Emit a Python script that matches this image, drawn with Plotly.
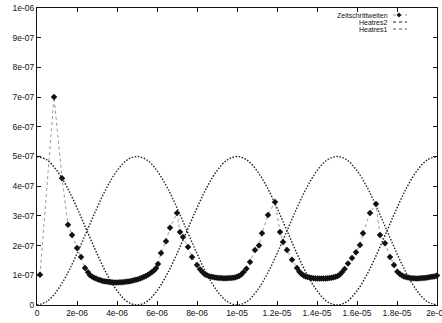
import plotly.graph_objects as go

# ---- data (x in microseconds, y in units of 1e-07) ----
heat_x_us = [0.0, 0.5, 1.0, 1.5, 2.0, 2.5, 3.0, 3.5, 4.0, 4.5, 5.0, 5.5, 6.0, 6.5, 7.0, 7.5,
             8.0, 8.5, 9.0, 9.5, 10.0, 10.5, 11.0, 11.5, 12.0, 12.5, 13.0, 13.5, 14.0, 14.5,
             15.0, 15.5, 16.0, 16.5, 17.0, 17.5, 18.0, 18.5, 19.0, 19.5, 20.0]
heatres2_e7 = [5.00, 4.88, 4.52, 3.97, 3.27, 2.50, 1.73, 1.03, 0.48, 0.12, 0.00, 0.12, 0.48, 1.03,
               1.73, 2.50, 3.27, 3.97, 4.52, 4.88, 5.00, 4.88, 4.52, 3.97, 3.27, 2.50, 1.73, 1.03,
               0.48, 0.12, 0.00, 0.12, 0.48, 1.03, 1.73, 2.50, 3.27, 3.97, 4.52, 4.88, 5.00]
heatres1_e7 = [0.00, 0.12, 0.48, 1.03, 1.73, 2.50, 3.27, 3.97, 4.52, 4.88, 5.00, 4.88, 4.52, 3.97,
               3.27, 2.50, 1.73, 1.03, 0.48, 0.12, 0.00, 0.12, 0.48, 1.03, 1.73, 2.50, 3.27, 3.97,
               4.52, 4.88, 5.00, 4.88, 4.52, 3.97, 3.27, 2.50, 1.73, 1.03, 0.48, 0.12, 0.00]

zsw_x_us = [0.15, 0.85, 1.25, 1.55, 1.75, 2.0, 2.2, 2.4, 2.55, 2.65, 2.75, 2.85, 2.95, 3.05, 3.15,
            3.25, 3.35, 3.45, 3.55, 3.65, 3.75, 3.85, 3.95, 4.05, 4.15, 4.25, 4.35, 4.45, 4.55,
            4.65, 4.75, 4.85, 4.95, 5.05, 5.15, 5.25, 5.35, 5.45, 5.55, 5.65, 5.75, 5.85, 5.95,
            6.05, 6.2, 6.45, 6.65, 7.0, 7.15, 7.3, 7.55, 7.75, 8.0, 8.15, 8.28, 8.4, 8.5, 8.6,
            8.7, 8.8, 8.9, 9.0, 9.1, 9.2, 9.3, 9.4, 9.5, 9.6, 9.7, 9.8, 9.9, 10.0, 10.1, 10.2,
            10.32, 10.47, 10.65, 10.9, 11.1, 11.25, 11.55, 11.9, 12.15, 12.3, 12.5, 12.75, 13.0,
            13.12, 13.23, 13.33, 13.43, 13.53, 13.63, 13.73, 13.83, 13.93, 14.03, 14.13, 14.23,
            14.33, 14.43, 14.53, 14.63, 14.73, 14.83, 14.93, 15.03, 15.13, 15.25, 15.38, 15.55,
            15.75, 15.95, 16.15, 16.3, 16.65, 16.95, 17.15, 17.4, 17.65, 17.85, 18.02, 18.14,
            18.25, 18.35, 18.45, 18.55, 18.65, 18.75, 18.85, 18.95, 19.05, 19.15, 19.25, 19.35,
            19.45, 19.55, 19.65, 19.75, 19.85, 19.95, 20.0]
zsw_y_e7 = [1.02, 7.00, 4.27, 2.70, 2.36, 1.92, 1.62, 1.25, 1.10, 1.00, 0.96, 0.92, 0.89, 0.86,
            0.84, 0.82, 0.80, 0.79, 0.78, 0.77, 0.765, 0.76, 0.76, 0.76, 0.765, 0.77, 0.775,
            0.78, 0.79, 0.80, 0.815, 0.83, 0.85, 0.87, 0.89, 0.92, 0.95, 0.98, 1.02, 1.06, 1.11,
            1.16, 1.24, 1.38, 1.75, 2.15, 2.60, 3.10, 2.46, 2.29, 1.95, 1.62, 1.35, 1.20, 1.10,
            1.03, 1.00, 0.97, 0.95, 0.94, 0.93, 0.92, 0.91, 0.905, 0.90, 0.90, 0.90, 0.905,
            0.91, 0.92, 0.93, 0.95, 0.98, 1.02, 1.10, 1.22, 1.45, 1.85, 2.00, 2.42, 3.03, 3.47,
            2.46, 2.12, 1.85, 1.52, 1.25, 1.12, 1.04, 0.99, 0.96, 0.94, 0.925, 0.91, 0.90,
            0.895, 0.89, 0.89, 0.89, 0.89, 0.895, 0.90, 0.91, 0.92, 0.935, 0.95, 0.98, 1.02,
            1.10, 1.21, 1.40, 1.58, 1.78, 2.02, 2.42, 3.10, 3.40, 2.36, 2.08, 1.62, 1.35, 1.12,
            1.04, 0.99, 0.96, 0.94, 0.925, 0.91, 0.90, 0.90, 0.895, 0.895, 0.90, 0.905, 0.91,
            0.92, 0.93, 0.94, 0.95, 0.96, 0.975, 0.99, 1.00]

x_tickvals = [0, 2e-06, 4e-06, 6e-06, 8e-06, 1e-05, 1.2e-05, 1.4e-05, 1.6e-05, 1.8e-05, 2e-05]
x_ticktext = ["0", "2e-06", "4e-06", "6e-06", "8e-06", "1e-05", "1.2e-05", "1.4e-05",
              "1.6e-05", "1.8e-05", "2e-05"]
y_tickvals = [0, 1e-07, 2e-07, 3e-07, 4e-07, 5e-07, 6e-07, 7e-07, 8e-07, 9e-07, 1e-06]
y_ticktext = ["0", "1e-07", "2e-07", "3e-07", "4e-07", "5e-07", "6e-07", "7e-07", "8e-07",
              "9e-07", "1e-06"]

legend_names = ["Zeitschrittweiten", "Heatres2", "Heatres1"]

US = 1e-06
E7 = 1e-07

fig = go.Figure()
fig.add_trace(go.Scatter(
    x=[v * US for v in heat_x_us], y=[v * E7 for v in heatres2_e7],
    mode="lines", line=dict(color="#1a1a1a", width=1.4, dash="1.5px,1.6px", shape="spline"),
    name=legend_names[1], showlegend=False))
fig.add_trace(go.Scatter(
    x=[v * US for v in heat_x_us], y=[v * E7 for v in heatres1_e7],
    mode="lines", line=dict(color="#2a2a2a", width=1.4, dash="1.5px,1.6px", shape="spline"),
    name=legend_names[2], showlegend=False))
fig.add_trace(go.Scatter(
    x=[v * US for v in zsw_x_us], y=[v * E7 for v in zsw_y_e7],
    mode="lines+markers",
    line=dict(color="#9a9a9a", width=1, dash="dot"),
    marker=dict(symbol="diamond", size=5, color="#111111"),
    name=legend_names[0], showlegend=False, cliponaxis=False))

# ---- manual legend (text right-aligned, sample on the right) ----
def px2paper(px, py):
    return (px - 37) / 400.0, (305 - py) / 297.0

font_leg = dict(family="Liberation Sans, Arial, sans-serif", size=7, color="#111")
rows = [15, 22, 29]
for name, py in zip(legend_names, rows):
    xp, yp = px2paper(390, py)
    fig.add_annotation(x=xp, y=yp, xref="paper", yref="paper", text=name, showarrow=False,
                       xanchor="right", yanchor="middle", font=font_leg)
    x0, yy = px2paper(393, py)
    x1, _ = px2paper(407, py)
    col = "#9a9a9a" if name == "Zeitschrittweiten" else ("#1a1a1a" if name == "Heatres2" else "#555")
    fig.add_shape(type="line", xref="paper", yref="paper", x0=x0, x1=x1, y0=yy, y1=yy,
                  line=dict(color=col, width=1.2, dash="dot"))
# diamond sample for Zeitschrittweiten
cx, cy = px2paper(399, rows[0])
dx, dy = 2.2 / 400.0, 2.2 / 297.0
fig.add_shape(type="path", xref="paper", yref="paper",
              path=f"M {cx-dx} {cy} L {cx} {cy+dy} L {cx+dx} {cy} L {cx} {cy-dy} Z",
              fillcolor="#111", line=dict(color="#111", width=0.5))

axis_common = dict(
    showgrid=False, zeroline=False, showline=True, linecolor="#111", linewidth=1,
    mirror="ticks", ticks="inside", ticklen=4, tickcolor="#111", tickwidth=1,
    automargin=False, ticklabeloverflow="allow",
    tickfont=dict(family="Liberation Sans, Arial, sans-serif", size=8.5, color="#111"),
)
fig.update_xaxes(range=[0, 2e-05], tickvals=x_tickvals, ticktext=x_ticktext, **axis_common)
fig.update_yaxes(range=[0, 1e-06], tickvals=y_tickvals, ticktext=y_ticktext, **axis_common)

fig.update_layout(
    width=442, height=323,
    margin=dict(l=37, r=5, t=8, b=18, autoexpand=False),
    paper_bgcolor="white", plot_bgcolor="white",
    showlegend=False,
)
fig.write_html(
    "out.html",
    config={"displayModeBar": False},
    post_script="document.body.style.margin='0px';document.body.style.padding='0px';"
                "document.body.style.overflow='hidden';",
)
